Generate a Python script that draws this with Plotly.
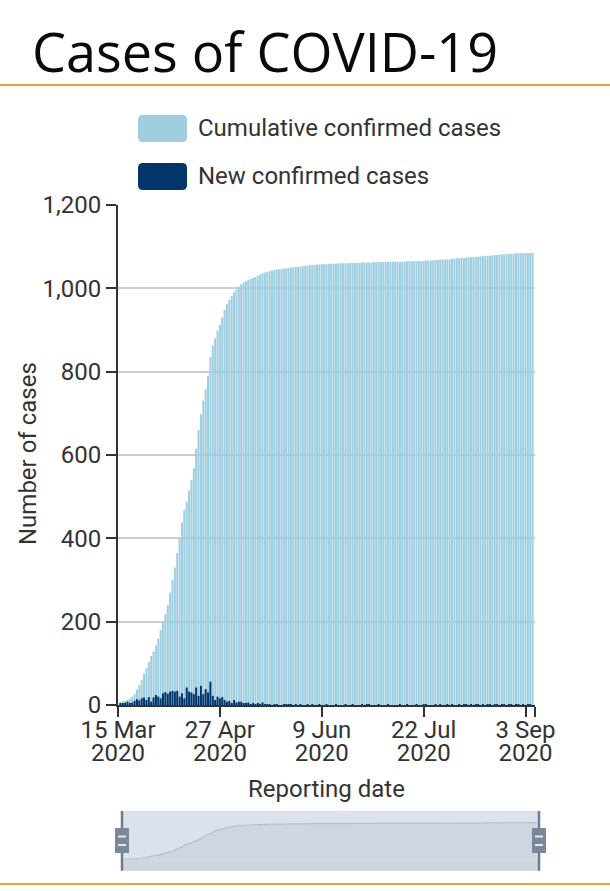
import pandas as pd
import plotly.graph_objects as go

# ---------------- data ----------------
start_date = "2020-03-16"
cumulative_cases = [
    8, 9, 10, 12, 15, 20, 27, 37, 48, 60,
    75, 88, 103, 118, 128, 143, 160, 180, 198, 218,
    240, 270, 300, 330, 365, 400, 438, 468, 488, 515,
    540, 568, 615, 660, 698, 730, 758, 790, 835, 862,
    880, 898, 912, 930, 948, 962, 972, 982, 990, 997,
    1004, 1010, 1014, 1017, 1020, 1023, 1025, 1027, 1030, 1033,
    1036, 1038, 1040, 1041, 1043, 1044, 1045, 1046, 1047, 1047,
    1048, 1049, 1050, 1050, 1051, 1052, 1052, 1053, 1054, 1055,
    1055, 1056, 1056, 1057, 1057, 1058, 1058, 1058, 1059, 1059,
    1059, 1059, 1060, 1060, 1060, 1060, 1060, 1061, 1061, 1061,
    1061, 1061, 1062, 1062, 1062, 1062, 1062, 1063, 1063, 1063,
    1063, 1063, 1063, 1063, 1064, 1064, 1064, 1064, 1064, 1064,
    1064, 1065, 1065, 1065, 1065, 1065, 1065, 1065, 1066, 1066,
    1067, 1067, 1067, 1068, 1068, 1069, 1069, 1069, 1069, 1070,
    1071, 1071, 1072, 1072, 1073, 1073, 1074, 1074, 1075, 1075,
    1076, 1076, 1077, 1077, 1078, 1078, 1079, 1079, 1080, 1080,
    1081, 1081, 1082, 1082, 1083, 1083, 1083, 1084, 1084, 1084,
    1084, 1085, 1085, 1085, 1085,
]
new_cases = [
    3, 4, 5, 8, 4, 6, 10, 14, 11,
    16, 18, 12, 19, 8, 18, 24, 20, 16, 28,
    31, 27, 32, 34, 32, 34, 20, 28, 16, 42,
    32, 30, 26, 42, 22, 46, 26, 38, 30, 56,
    22, 12, 20, 16, 19, 12, 8, 10, 4, 12,
    6, 8, 8, 4, 3, 6, 2, 3, 2, 4,
    2, 6, 2, 1,
    1, 0, 2, 1, 0, 0, 1, 1, 2, 1,
    0, 1, 0, 1, 0, 0, 1, 0, 1, 0,
    0, 1, 0, 0, 1, 0, 0, 0, 1, 0,
    0, 0, 1, 0, 0, 1, 0, 0, 0, 1,
    0, 1, 1, 0, 0, 0, 1, 0, 0, 0,
    1, 0, 0, 0, 0, 1, 0, 0, 1, 0,
    0, 0, 1, 0, 0, 1, 1, 0, 0, 0,
    1, 0, 1, 0, 0, 2, 0, 1, 0, 0,
    1, 0, 1, 1, 0, 1, 0, 1, 1, 0,
    1, 0, 1, 1, 0, 1, 1, 0, 1, 1,
    0, 1, 1, 0, 1, 1, 0, 1, 0, 1,
    1, 0,
]
dates = pd.date_range(start_date, periods=len(cumulative_cases), freq="D")
new_cases = new_cases[: len(dates)]

x_range = ["2020-03-15", "2020-09-07"]
tick_dates = ["2020-03-15", "2020-04-27", "2020-06-09", "2020-07-22", "2020-09-03", "2020-09-07"]
tick_line1 = ["15 Mar", "27 Apr", "9 Jun", "22 Jul", "3 Sep", ""]
tick_line2 = ["2020", "2020", "2020", "2020", "2020", ""]
y_ticks = [0, 200, 400, 600, 800, 1000, 1200]
series_names = ["Cumulative confirmed cases", "New confirmed cases"]

# ---------------- styling ----------------
W, H = 610, 891
LIGHT = "#9ecee0"
DARK = "#02356a"
AXIS = "#333333"
FONT = "Roboto"
ORANGE = "#e8a23a"
FS = 24


def px(x):
    return x / W


def py(y):
    return 1 - y / H


fig = go.Figure()
fig.add_trace(go.Bar(x=dates, y=cumulative_cases, name=series_names[0],
                     marker=dict(color=LIGHT, line=dict(width=0)),
                     showlegend=False, xaxis="x", yaxis="y"))
fig.add_trace(go.Bar(x=dates, y=new_cases, name=series_names[1],
                     marker=dict(color=DARK, line=dict(width=0)),
                     showlegend=False, xaxis="x", yaxis="y"))
# navigator series
NAV_MIN, NAV_MAX = -330, 1430
fig.add_trace(go.Scatter(x=dates, y=cumulative_cases, mode="lines",
                         line=dict(color="#b6c0cd", width=1.2, shape="spline"),
                         fill="tozeroy", fillcolor="#cfd6e0",
                         showlegend=False, hoverinfo="skip",
                         xaxis="x2", yaxis="y2"))
# invisible helper traces so the label axes are rendered
for ax in ("x3", "x4"):
    fig.add_trace(go.Scatter(x=[dates[0]], y=[0], xaxis=ax, yaxis="y", mode="markers",
                             marker=dict(opacity=0), showlegend=False, hoverinfo="skip"))

tickfont = dict(family=FONT, size=FS, color=AXIS)


def label_axis(labels, pos):
    return dict(type="date", range=x_range, domain=[px(118), px(535)],
                overlaying="x", anchor="free", position=py(pos), side="bottom",
                showline=False, ticks="", tickmode="array", tickvals=tick_dates,
                ticktext=labels, tickfont=tickfont, showgrid=False,
                zeroline=False, fixedrange=True, automargin=False)


fig.update_layout(
    width=W, height=H,
    margin=dict(l=0, r=0, t=0, b=0, autoexpand=False),
    paper_bgcolor="white", plot_bgcolor="white",
    barmode="overlay", bargap=0.15,
    showlegend=False,
    xaxis=dict(type="date", range=x_range, domain=[px(118), px(535)], anchor="y",
               showline=True, linecolor=AXIS, linewidth=2,
               ticks="outside", ticklen=10, tickwidth=2, tickcolor=AXIS,
               tickmode="array", tickvals=tick_dates, showticklabels=False,
               showgrid=False, zeroline=False, fixedrange=True, automargin=False),
    xaxis3=label_axis(tick_line1, 713),
    xaxis4=label_axis(tick_line2, 736),
    yaxis=dict(range=[0, 1200], domain=[py(705), py(205)], anchor="x",
               showline=True, linecolor=AXIS, linewidth=2,
               ticks="outside", ticklen=10, tickwidth=2, tickcolor=AXIS,
               tickmode="array", tickvals=y_ticks, tickformat=",d",
               tickfont=tickfont, showgrid=True, gridcolor="#cccccc", gridwidth=1.5,
               zeroline=False, fixedrange=True, automargin=False),
    xaxis2=dict(type="date", range=x_range, domain=[px(122), px(539)], anchor="y2",
                visible=False, fixedrange=True, automargin=False),
    yaxis2=dict(range=[NAV_MIN, NAV_MAX], domain=[py(870.7), py(811)], anchor="x2",
                visible=False, fixedrange=True, automargin=False),
)

shapes = []
# orange rules
for yy in (85, 884):
    shapes.append(dict(type="line", xref="paper", yref="paper", x0=0, x1=1,
                       y0=py(yy), y1=py(yy), line=dict(color=ORANGE, width=2)))
# navigator background
shapes.append(dict(type="rect", xref="x2 domain", yref="y2 domain", x0=0, x1=1, y0=0, y1=1,
                   fillcolor="#dce2eb", line=dict(width=0), layer="below"))
shapes.append(dict(type="rect", xref="x2 domain", yref="y2", x0=0, x1=1, y0=NAV_MIN, y1=0,
                   fillcolor="#cfd6e0", line=dict(width=0), layer="below"))


def rounded_rect(x0, y0, x1, y1, r, color):
    rx, ry = r / W, r / H
    X0, X1 = px(x0), px(x1)
    Y0, Y1 = py(y1), py(y0)  # bottom, top in paper
    path = (f"M{X0+rx},{Y1} L{X1-rx},{Y1} Q{X1},{Y1} {X1},{Y1-ry} "
            f"L{X1},{Y0+ry} Q{X1},{Y0} {X1-rx},{Y0} L{X0+rx},{Y0} "
            f"Q{X0},{Y0} {X0},{Y0+ry} L{X0},{Y1-ry} Q{X0},{Y1} {X0+rx},{Y1} Z")
    return dict(type="path", xref="paper", yref="paper", path=path,
                fillcolor=color, line=dict(width=0))


# legend symbols
shapes.append(rounded_rect(138, 115, 187, 142, 5, LIGHT))
shapes.append(rounded_rect(138, 163, 187, 190, 5, DARK))

# navigator handles
for hx in (122, 539):
    shapes.append(dict(type="line", xref="paper", yref="paper", x0=px(hx), x1=px(hx),
                       y0=py(811), y1=py(870.7), line=dict(color="#6f7c8d", width=2.5)))
    shapes.append(dict(type="rect", xref="paper", yref="paper", x0=px(hx - 7), x1=px(hx + 7),
                       y0=py(853), y1=py(828), fillcolor="#7b8899", line=dict(width=0)))
    for gy in (836.5, 845):
        shapes.append(dict(type="line", xref="paper", yref="paper", x0=px(hx - 4), x1=px(hx + 4),
                           y0=py(gy), y1=py(gy), line=dict(color="#e4e8ee", width=2)))

fig.update_layout(shapes=shapes)

annotations = [
    dict(text="Cases of COVID-19", xref="paper", yref="paper", x=px(30), y=py(51),
         xanchor="left", yanchor="middle", showarrow=False,
         font=dict(family="Open Sans", size=54, color="#0a0a0a")),
    dict(text=series_names[0], xref="paper", yref="paper", x=px(196), y=py(128),
         xanchor="left", yanchor="middle", showarrow=False,
         font=dict(family=FONT, size=FS, color=AXIS)),
    dict(text=series_names[1], xref="paper", yref="paper", x=px(196), y=py(176),
         xanchor="left", yanchor="middle", showarrow=False,
         font=dict(family=FONT, size=FS, color=AXIS)),
    dict(text="Reporting date", xref="paper", yref="paper", x=px(326), y=py(789),
         xanchor="center", yanchor="middle", showarrow=False,
         font=dict(family=FONT, size=FS, color=AXIS)),
    dict(text="Number of cases", xref="paper", yref="paper", x=px(28), y=py(454),
         xanchor="center", yanchor="middle", showarrow=False, textangle=-90,
         font=dict(family=FONT, size=FS, color=AXIS)),
]
fig.update_layout(annotations=annotations)

fig.write_html("out.html", config={"displayModeBar": False},
               post_script="document.body.style.margin='0';document.body.style.overflow='hidden';")
